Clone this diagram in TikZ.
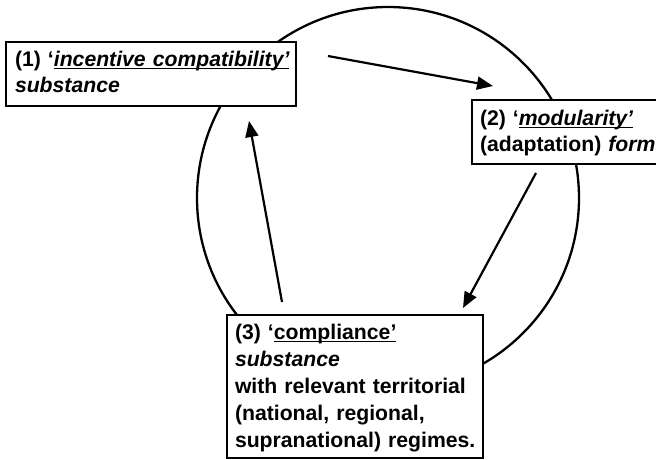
\documentclass[tikz,border=0pt]{standalone}
\usepackage{fontspec}
\setmainfont{Liberation Sans}
\usetikzlibrary{arrows.meta}

% underline drawn as a rule just under the baseline
\newcommand\ulx[1]{\setbox0=\hbox{#1}\rlap{\rule[-3.4pt]{\wd0}{1.3pt}}\box0}

\begin{document}
\begin{tikzpicture}[x=1pt,y=-1pt,
  stagebox/.style={draw, line width=1.6pt, fill=white, align=left,
    inner ysep=0pt, outer sep=0pt, anchor=base west,
    font=\fontsize{21.2pt}{26pt}\selectfont\bfseries},
  flow/.style={line width=2.2pt, -{Triangle[length=16pt,width=13pt]}}]
\useasboundingbox (0,0) rectangle (656,459);

% cycle behind the three stages
\draw[line width=2.3pt] (388,198) circle[radius=191pt];

\node[stagebox, inner xsep=9pt, text width=272pt, text height=24pt, text depth=40pt]
  (s1) at (6,66)
  {\mbox{(1) ‘\ulx{\itshape incentive compatibility’}}\\
   \itshape substance};

\node[stagebox, inner xsep=8pt, text width=180pt, text height=25pt, text depth=39pt]
  (s2) at (472,125)
  {\mbox{(2) ‘\ulx{\itshape modularity’}}\\
   \mbox{(adaptation) \itshape form}};

\node[stagebox, inner xsep=8pt, text width=240pt, text height=24pt, text depth=119pt,
  font=\fontsize{21.2pt}{27pt}\selectfont\bfseries]
  (s3) at (227,339)
  {\mbox{(3) ‘\ulx{compliance’}}\\
   {\itshape substance}\\
   \mbox{with relevant territorial}\\
   \mbox{(national, regional,}\\
   \mbox{supranational) regimes.}};

% arrows between the stages
\coordinate (a12s) at (328,56);
\coordinate (a12e) at (493,86);
\coordinate (a23s) at (536,173);
\coordinate (a23e) at (463,308);
\coordinate (a31s) at (282,302);
\coordinate (a31e) at (249,121);
\draw[flow] (a12s) -- (a12e);
\draw[flow] (a23s) -- (a23e);
\draw[flow] (a31s) -- (a31e);
\end{tikzpicture}
\end{document}
